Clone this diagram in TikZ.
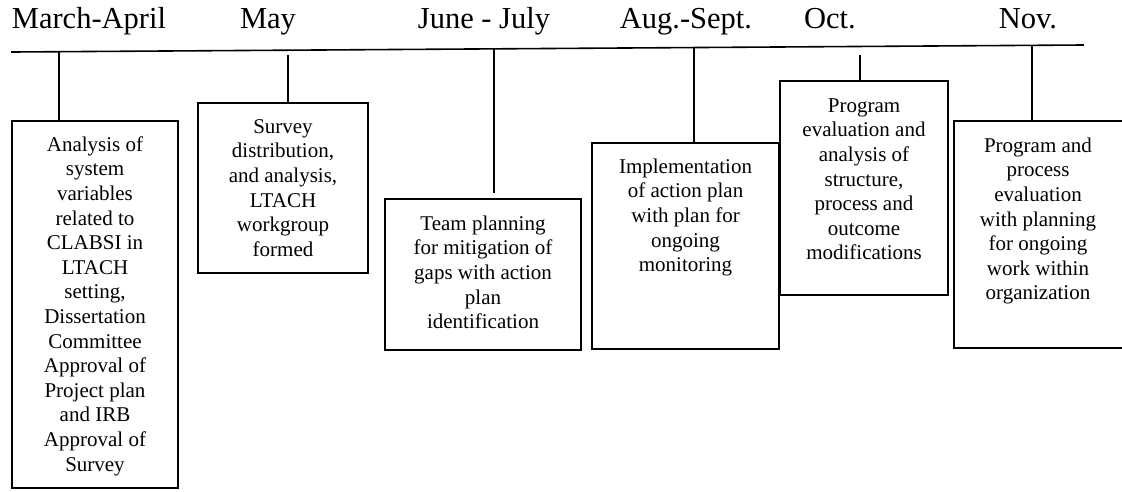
\documentclass[tikz,border=0pt]{standalone}
\usepackage{fontspec}
\setmainfont{Liberation Serif}
\tikzset{
  ln/.style={line width=1.6pt, line cap=rect},
  box/.style={draw, line width=1.6pt, anchor=north west, inner sep=0pt, outer sep=0pt},
  boxtext/.style={anchor=north, inner sep=0pt, align=center, font=\fontsize{21}{24.6}\selectfont},
  month/.style={anchor=base, inner sep=0pt, font=\fontsize{30.5}{34}\selectfont},
}
\begin{document}
\begin{tikzpicture}[x=1pt,y=-1pt]
\useasboundingbox (0,0) rectangle (1122,491);
\clip (0,0) rectangle (1122,491);
% month labels
\node[month] (m1) at (89,28) {March-April};
\node[month] (m2) at (268,28) {May};
\node[month] (m3) at (484,28) {June - July};
\node[month] (m4) at (686,28) {Aug.-Sept.};
\node[month] (m5) at (830,28) {Oct.};
\node[month] (m6) at (1028,28) {Nov.};
% timeline
\coordinate (tl0) at (12,52);
\coordinate (tl1) at (1083,45);
\draw[ln] (tl0) -- (tl1);
% boxes
\node[box, minimum width=166pt, minimum height=367pt] (b1) at (12,121) {};
\node[box, minimum width=170pt, minimum height=170pt] (b2) at (198,103) {};
\node[box, minimum width=196pt, minimum height=151pt] (b3) at (385,199) {};
\node[box, minimum width=187pt, minimum height=206pt] (b4) at (592,143) {};
\node[box, minimum width=168pt, minimum height=214pt] (b5) at (780,81) {};
\node[box, minimum width=174pt, minimum height=227pt] (b6) at (954,121) {};
% ticks
\coordinate (k1) at (59,51.7);
\coordinate (k2) at (288,55);
\coordinate (k3) at (494,48.8);
\coordinate (k3e) at (494,193);
\coordinate (k4) at (694,47.5);
\coordinate (k5) at (860,55);
\coordinate (k6) at (1032,45.3);
\draw[line width=1.6pt] (k1) -- (k1 |- b1.north);
\draw[line width=1.6pt] (k2) -- (k2 |- b2.north);
\draw[line width=1.6pt] (k3) -- (k3e);
\draw[line width=1.6pt] (k4) -- (k4 |- b4.north);
\draw[line width=1.6pt] (k5) -- (k5 |- b5.north);
\draw[line width=1.6pt] (k6) -- (k6 |- b6.north);
% texts
\node[boxtext] (t1) at ([yshift=-12.8pt]b1.north) {\strut Analysis of\\system\\variables\\related to\\CLABSI in\\LTACH\\setting,\\Dissertation\\Committee\\Approval of\\Project plan\\and IRB\\Approval of\\Survey};
\node[boxtext] (t2) at ([yshift=-12.8pt]b2.north) {\strut Survey\\distribution,\\and analysis,\\LTACH\\workgroup\\formed};
\node[boxtext] (t3) at ([yshift=-13.8pt]b3.north) {\strut Team planning\\for mitigation of\\gaps with action\\plan\\identification};
\node[boxtext] (t4) at ([yshift=-12.8pt]b4.north) {\strut Implementation\\of action plan\\with plan for\\ongoing\\monitoring};
\node[boxtext] (t5) at ([yshift=-13.8pt]b5.north) {\strut Program\\evaluation and\\analysis of\\structure,\\process and\\outcome\\modifications};
\node[boxtext] (t6) at ([yshift=-13.8pt]b6.north west) [xshift=84pt] {\strut Program and\\process\\evaluation\\with planning\\for ongoing\\work within\\organization};
\end{tikzpicture}
\end{document}
